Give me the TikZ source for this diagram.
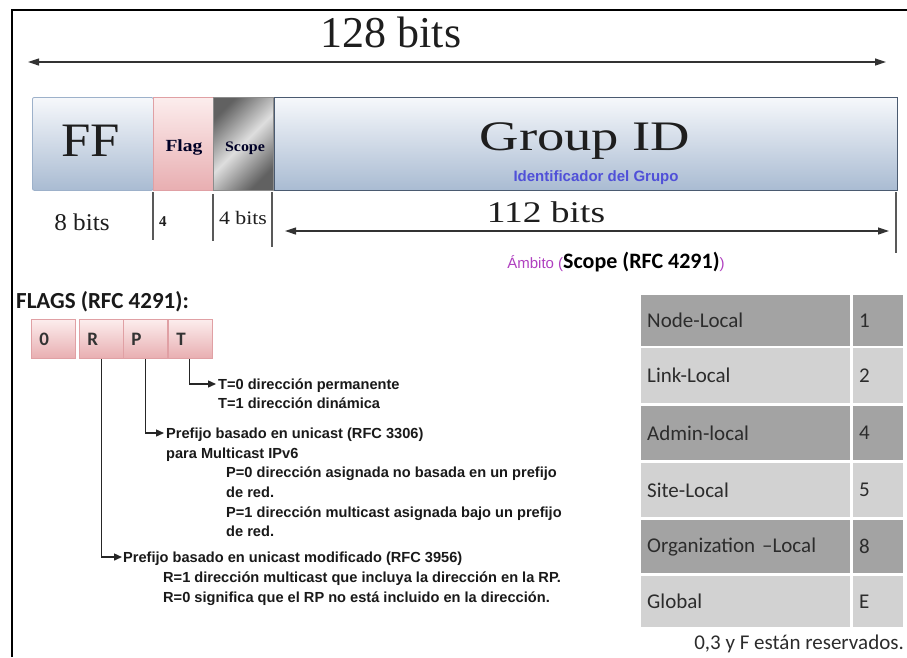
\documentclass[tikz,border=0pt]{standalone}
\usepackage{fontspec}
\setmainfont{Liberation Serif}
\newfontfamily\arialf{Liberation Sans}
\newfontfamily\calf{Carlito}
\usetikzlibrary{arrows.meta}
\definecolor{ffTop}{HTML}{F6F8FB}
\definecolor{ffBot}{HTML}{A9BBD2}
\definecolor{ffLine}{HTML}{9DB1CA}
\definecolor{flTop}{HTML}{FCEDED}
\definecolor{flBot}{HTML}{E8AEB1}
\definecolor{flLine}{HTML}{E0A0A4}
\definecolor{gidLine}{HTML}{4A5A70}
\definecolor{idBlue}{HTML}{5050D8}
\definecolor{mag}{HTML}{B040C0}
\definecolor{darkCell}{HTML}{A3A3A3}
\definecolor{lightCell}{HTML}{D2D2D2}
\definecolor{cellText}{HTML}{2C2C2C}
\definecolor{serifText}{HTML}{1E1E1E}
\tikzset{
  dimarrow/.style={line width=1.2pt, draw=black!80, {Triangle[length=11pt,width=7pt]}-{Triangle[length=11pt,width=7pt]}},
  conn/.style={line width=1.4pt, draw=black!85, -{Triangle[length=8pt,width=7pt]}},
  tickline/.style={line width=1.3pt, draw=black!65},
  desc/.style={font=\arialf\bfseries\fontsize{14.6}{16}\selectfont, anchor=base west, inner sep=0pt, text=black!90},
  flagbox/.style={draw=flLine, line width=0.8pt, top color=flTop, bottom color=flBot, text width=28pt, inner xsep=8pt, align=left, minimum height=39pt, inner ysep=0pt, anchor=north west, font=\calf\bfseries\fontsize{19}{20}\selectfont, text=black!80},
  cellbox/.style={anchor=north west, inner xsep=6pt, inner ysep=0pt, align=left, font=\calf\fontsize{21}{23}\selectfont, text=cellText},
}
\begin{document}
\begin{tikzpicture}[x=1pt,y=-1pt]
\useasboundingbox (0,0) rectangle (907,657);
\fill[white] (0,0) rectangle (907,657);
% frame
\draw[line width=2.6pt, black] (12,657) -- (12,10) -- (907,10);

% 128 bits
\node[font=\fontsize{44}{50}\selectfont, text=serifText, inner sep=0pt] (t128) at (391,32) {128 bits};
\coordinate (a128l) at (28,62);
\coordinate (a128r) at (886,62);
\draw[dimarrow] (a128l) -- (a128r);

% bar
\node[draw=ffLine, line width=0.8pt, top color=ffTop, bottom color=ffBot, rounded corners=2pt, minimum width=121pt, minimum height=93pt, anchor=north west, inner sep=0pt] (ff) at (32,97) {};
\node[font=\fontsize{48}{50}\selectfont, text=serifText, inner sep=0pt] (fftxt) at (91,141) {\scalebox{1.1}[1]{FF}};
\node[draw=flLine, line width=0.8pt, top color=flTop, bottom color=flBot, minimum width=60pt, minimum height=93pt, anchor=north west, inner sep=0pt] (flag) at (153,97) {};
\node[font=\bfseries\fontsize{17}{18}\selectfont, text=black!85!blue, inner sep=0pt] (flagtxt) at (184,147) {\scalebox{1.15}[1]{Flag}};
\shade[left color=black!62, right color=black!62, middle color=black!13, shading angle=45] (213,97) rectangle (273,190);
\node[draw=black!45, line width=0.6pt, minimum width=60pt, minimum height=93pt, anchor=north west, inner sep=0pt] (scope) at (213,97) {};
\node[font=\bfseries\fontsize{14.5}{16}\selectfont, text=black!85!blue, inner sep=0pt] (scopetxt) at (245,148) {\scalebox{1.1}[1]{Scope}};
\node[draw=gidLine, line width=1.1pt, top color=ffTop, bottom color=ffBot, minimum width=623pt, minimum height=93pt, anchor=north west, inner sep=0pt] (gid) at (274,97) {};
\node[font=\fontsize{42}{46}\selectfont, text=serifText, inner sep=0pt] (gidtxt) at (585,141) {\scalebox{1.3}[1]{Group ID}};
\node[font=\arialf\bfseries\fontsize{15}{17}\selectfont, text=idBlue, inner sep=0pt] (idtxt) at (596,178) {Identificador del Grupo};

% ticks and sizes
\coordinate (k1a) at (153,192); \coordinate (k1b) at (153,240);
\coordinate (k2a) at (213,194); \coordinate (k2b) at (213,241);
\coordinate (k3a) at (272,192); \coordinate (k3b) at (272,247);
\coordinate (k4a) at (896,192); \coordinate (k4b) at (896,253);
\draw[tickline] (k1a) -- (k1b);
\draw[tickline] (k2a) -- (k2b);
\draw[tickline] (k3a) -- (k3b);
\draw[tickline] (k4a) -- (k4b);
\node[font=\fontsize{24}{26}\selectfont, text=serifText, inner sep=0pt] (b8) at (82,222) {\scalebox{1.05}[1]{8 bits}};
\node[font=\bfseries\fontsize{15}{16}\selectfont, text=serifText, inner sep=0pt, anchor=west] (b4) at (159,222) {4};
\node[font=\fontsize{19}{21}\selectfont, text=serifText, inner sep=0pt] (b4b) at (243,218) {\scalebox{1.15}[1]{4 bits}};
\node[font=\fontsize{30}{32}\selectfont, text=serifText, inner sep=0pt] (b112) at (546,212) {\scalebox{1.25}[1]{112 bits}};
\coordinate (a112l) at (285,231);
\coordinate (a112r) at (889,231);
\draw[dimarrow] (a112l) -- (a112r);
\node[inner sep=0pt] (ambito) at (616,262) {{\arialf\fontsize{15}{17}\selectfont\color{mag}Ámbito (}{\calf\bfseries\fontsize{22}{24}\selectfont Scope (RFC 4291)}{\arialf\fontsize{15}{17}\selectfont\color{mag} )}};

% flags
\node[font=\calf\bfseries\fontsize{23}{25}\selectfont, anchor=west, inner sep=0pt, text=black!90] (flagsttl) at (16,302) {FLAGS (RFC 4291):};
\node[flagbox] (f0) at (31,319) {0};
\node[flagbox] (fR) at (79,319) {R};
\node[flagbox] (fP) at (123,319) {P};
\node[flagbox] (fT) at (168,319) {T};

\coordinate (eT) at (216,384);
\coordinate (eP) at (164,433);
\coordinate (eR) at (122,557);
\draw[conn] (fT.south) ++(-1,0) |- (eT);
\draw[conn] (fP.south) |- (eP);
\draw[conn] (fR.south) |- (eR);

\node[desc] (dT0) at (218,389) {T=0 dirección permanente};
\node[desc] (dT1) at (218,408) {T=1 dirección dinámica};
\node[desc] (dP1) at (166,438) {Prefijo basado en unicast (RFC 3306)};
\node[desc] (dP2) at (166,458) {para Multicast IPv6};
\node[desc] (dP3) at (226,477) {P=0 dirección asignada no basada en un prefijo};
\node[desc] (dP4) at (226,497) {de red.};
\node[desc] (dP5) at (226,517) {P=1 dirección multicast asignada bajo un prefijo};
\node[desc] (dP6) at (226,536) {de red.};
\node[desc] (dR1) at (123,562) {Prefijo basado en unicast modificado (RFC 3956)};
\node[desc] (dR2) at (163,582) {R=1 dirección multicast que incluya la dirección en la RP.};
\node[desc] (dR3) at (163,602) {R=0 significa que el RP no está incluido en la dirección.};

% table
\node[cellbox, fill=darkCell, text width=197pt, minimum height=51pt] (c1a) at (641,295) {Node-Local};
\node[cellbox, fill=darkCell, text width=38pt, minimum height=51pt] (c1b) at (853,295) {1};
\node[cellbox, fill=lightCell, text width=197pt, minimum height=55pt] (c2a) at (641,348) {Link-Local};
\node[cellbox, fill=lightCell, text width=38pt, minimum height=55pt] (c2b) at (853,348) {2};
\node[cellbox, fill=darkCell, text width=197pt, minimum height=54pt] (c3a) at (641,406) {Admin-local};
\node[cellbox, fill=darkCell, text width=38pt, minimum height=54pt] (c3b) at (853,406) {4};
\node[cellbox, fill=lightCell, text width=197pt, minimum height=54pt] (c4a) at (641,463) {Site-Local};
\node[cellbox, fill=lightCell, text width=38pt, minimum height=54pt] (c4b) at (853,463) {5};
\node[cellbox, fill=darkCell, text width=197pt, minimum height=53pt] (c5a) at (641,520) {Organization –Local};
\node[cellbox, fill=darkCell, text width=38pt, minimum height=53pt] (c5b) at (853,520) {8};
\node[cellbox, fill=lightCell, text width=197pt, minimum height=51pt] (c6a) at (641,576) {Global};
\node[cellbox, fill=lightCell, text width=38pt, minimum height=51pt] (c6b) at (853,576) {E};
\node[font=\calf\fontsize{21}{23}\selectfont, text=cellText, anchor=east, inner sep=0pt] (note) at (904,644) {0,3 y F están reservados.};
\end{tikzpicture}
\end{document}
